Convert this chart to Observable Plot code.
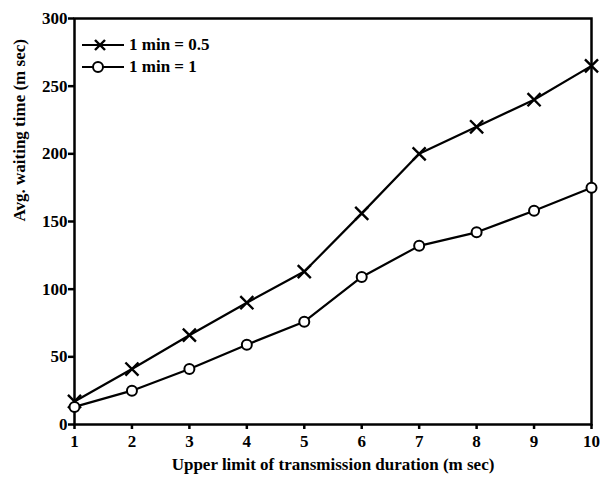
<!DOCTYPE html>
<html><head><meta charset="utf-8">
<script src="https://cdn.jsdelivr.net/npm/d3@7"></script>
<script src="https://cdn.jsdelivr.net/npm/@observablehq/plot@0.6"></script>
<style>
body{margin:0;background:#fff;font-family:"Liberation Serif",serif;}
#wrap{position:relative;width:603px;height:481px;}
#legend{position:absolute;left:80px;top:34px;font:bold 17px "Liberation Serif",serif;color:#000;}
#legend div{display:flex;align-items:center;height:22px;}
#legend svg{margin-right:3px;}
</style></head>
<body><div id="wrap"><div id="legend"></div></div>
<script>
const xs = [1,2,3,4,5,6,7,8,9,10];
const series05 = [17,41,66,90,113,156,200,220,240,265];
const series1 = [13,25,41,59,76,109,132,142,158,175];
const seriesNames = ["1 min = 0.5","1 min = 1"];
const yTicks = [0,50,100,150,200,250,300];

const d05 = xs.map((x,i)=>({x, y: series05[i]}));
const d1 = xs.map((x,i)=>({x, y: series1[i]}));

const chart = Plot.plot({
  width: 603, height: 481,
  marginLeft: 74, marginRight: 12, marginTop: 18, marginBottom: 57,
  style: {fontFamily: "Liberation Serif, serif", fontSize: "17px", fontWeight: "bold", color: "#000", background: "#fff"},
  x: {domain: [1,10], ticks: xs, tickFormat: d=>d, label: null},
  y: {domain: [0,300], ticks: yTicks, label: null},
  marks: [
    Plot.frame({stroke: "#000", strokeWidth: 2.5}),
    Plot.axisX({ticks: xs, tickSize: 5, tickPadding: 5, strokeWidth: 2.5, fontSize: 17, fill: "#000", label: null}),
    Plot.axisY({ticks: yTicks, tickSize: 6, tickPadding: 1, strokeWidth: 2.5, fontSize: 17, fill: "#000", label: null}),
    Plot.text(["Upper limit of transmission duration (m sec)"], {frameAnchor: "bottom", dy: 45, fontSize: 17, fontWeight: "bold", fill: "#000"}),
    Plot.text(["Avg. waiting time (m sec)"], {frameAnchor: "left", dx: -55, rotate: -90, fontSize: 17, fontWeight: "bold", fill: "#000"}),
    Plot.line(d05, {x: "x", y: "y", stroke: "#000", strokeWidth: 2.2}),
    Plot.line(d1, {x: "x", y: "y", stroke: "#000", strokeWidth: 2.2}),
    Plot.dot(d05, {x: "x", y: "y", symbol: "times", r: 6, stroke: "#000", strokeWidth: 2.4}),
    Plot.dot(d1, {x: "x", y: "y", symbol: "circle", r: 5, fill: "#fff", stroke: "#000", strokeWidth: 2})
  ]
});
document.getElementById("wrap").prepend(chart);

const leg = document.getElementById("legend");
seriesNames.forEach((name,i)=>{
  const row = document.createElement("div");
  const sym = i===0
    ? '<line x1="15" y1="5" x2="25" y2="15" stroke="#000" stroke-width="2.4"/><line x1="25" y1="5" x2="15" y2="15" stroke="#000" stroke-width="2.4"/>'
    : '<circle cx="18" cy="10" r="5" fill="#fff" stroke="#000" stroke-width="2"/>';
  row.innerHTML = `<svg width="46" height="20"><line x1="2" y1="10" x2="44" y2="10" stroke="#000" stroke-width="2.2"/>${sym}</svg><span>${name}</span>`;
  leg.appendChild(row);
});
</script></body></html>
